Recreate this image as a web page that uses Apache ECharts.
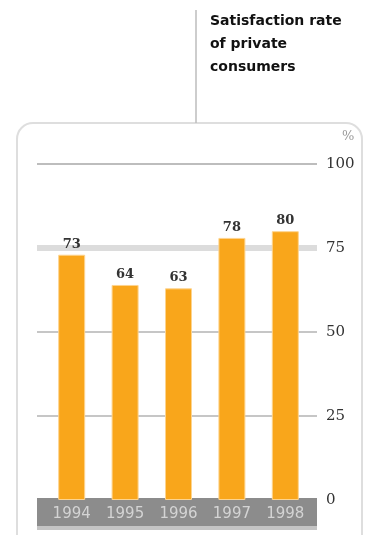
<!DOCTYPE html>
<html>
<head>
<meta charset="utf-8">
<style>
  html, body { margin: 0; padding: 0; background: #fff; }
  #chart { width: 369px; height: 535px; }
</style>
<script src="https://cdn.jsdelivr.net/npm/echarts@6/dist/echarts.min.js"></script>
</head>
<body>
<div id="chart"></div>
<script>
// satisfaction rate of private consumers
var years = ['1994', '1995', '1996', '1997', '1998'];
var rates = [73, 64, 63, 78, 80];
var yTicks = [0, 25, 50, 75, 100];
var refLevel = 75;

var chart = echarts.init(document.getElementById('chart'), null, { renderer: 'canvas' });

var option = {
    animation: false,
    backgroundColor: '#fff',
    graphic: [
        // frame
        {
            type: 'rect',
            shape: { x: 17, y: 123, width: 345, height: 440, r: 16 },
            style: { fill: 'none', stroke: '#dedede', lineWidth: 2 },
            z: 0
        },
        // connector line up to title
        {
            type: 'line',
            shape: { x1: 196, y1: 10, x2: 196, y2: 123 },
            style: { stroke: '#bdbdbd', lineWidth: 1.5 },
            z: 0
        },
        // grey band under the bars
        {
            type: 'rect',
            shape: { x: 37, y: 498, width: 280, height: 29 },
            style: { fill: '#8c8c8c' },
            z: 1
        },
        {
            type: 'rect',
            shape: { x: 37, y: 526, width: 280, height: 4 },
            style: { fill: '#c4c4c4' },
            z: 1
        },
        {
            type: 'text',
            left: 210,
            top: 10,
            style: {
                text: 'Satisfaction rate\nof private\nconsumers',
                font: 'bold 14px "DejaVu Sans"',
                lineHeight: 23,
                fill: '#111'
            }
        },
        {
            type: 'text',
            left: 342,
            top: 130,
            style: { text: '%', font: '13px "DejaVu Serif"', fill: '#9a9a9a' }
        }
    ],
    grid: [
        { left: 37, right: 52, top: 164, bottom: 35 },  // gridlines
        { left: 45, right: 57, top: 164, bottom: 35 }   // bars
    ],
    xAxis: [
        {
            gridIndex: 0,
            type: 'category',
            data: years,
            show: false
        },
        {
            gridIndex: 1,
            type: 'category',
            data: years,
            z: 10,
            axisLine: { show: false },
            axisTick: { show: false },
            axisLabel: {
                color: '#d4d4d4',
                fontFamily: 'DejaVu Sans',
                fontSize: 15,
                margin: 7
            }
        }
    ],
    yAxis: [
        {
            gridIndex: 0,
            type: 'value',
            position: 'right',
            min: yTicks[0],
            max: yTicks[yTicks.length - 1],
            interval: 25,
            axisLine: { show: false },
            axisTick: { show: false },
            axisLabel: {
                margin: 9,
                color: '#333',
                fontFamily: 'DejaVu Serif',
                fontSize: 15
            },
            splitLine: {
                lineStyle: {
                    color: ['#8c8c8c', '#c6c6c6', '#c6c6c6', '#dcdcdc', '#bdbdbd'],
                    width: 2
                }
            }
        },
        {
            gridIndex: 1,
            type: 'value',
            min: yTicks[0],
            max: yTicks[yTicks.length - 1],
            interval: 25,
            show: false
        }
    ],
    series: [
        {
            // thick 75% reference line
            type: 'line',
            xAxisIndex: 0,
            yAxisIndex: 0,
            data: [],
            z: 1,
            markLine: {
                silent: true,
                symbol: 'none',
                label: { show: false },
                lineStyle: { color: '#dcdcdc', width: 6, type: 'solid' },
                data: [{ yAxis: refLevel }]
            }
        },
        {
            type: 'bar',
            xAxisIndex: 1,
            yAxisIndex: 1,
            data: rates,
            barWidth: 27,
            z: 5,
            itemStyle: {
                color: '#f9a61b',
                borderColor: '#fdd48f',
                borderWidth: 1
            },
            label: {
                show: true,
                position: 'top',
                distance: 4,
                color: '#333',
                fontFamily: 'DejaVu Serif',
                fontWeight: 'bold',
                fontSize: 13
            }
        }
    ]
};

chart.setOption(option);
</script>
</body>
</html>
